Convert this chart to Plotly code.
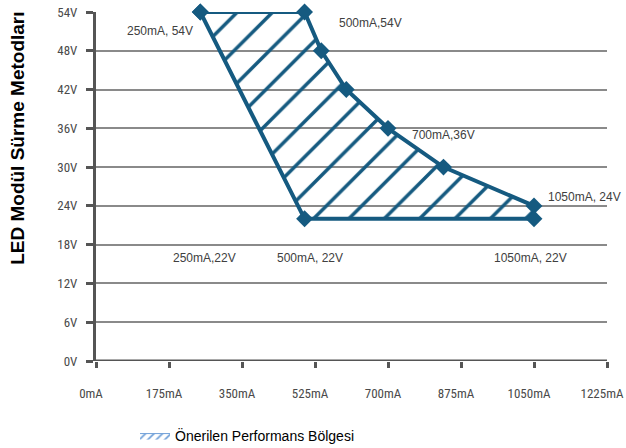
import plotly.graph_objects as go

# Data
current_mA = [250, 500, 540, 600, 700, 833, 1050, 1050, 500]
voltage_V = [54, 54, 48, 42, 36, 30, 24, 22, 22]

label_texts = ["250mA, 54V", "500mA,54V", "700mA,36V", "1050mA, 24V",
               "250mA,22V", "500mA, 22V", "1050mA, 22V"]
label_x = [153, 657, 832, 1172, 261, 513, 1041]
label_y = [51, 52.3, 34.9, 25.4, 16, 16, 16]

x_ticks = [0, 175, 350, 525, 700, 875, 1050, 1225]
x_tick_text = ["0mA", "175mA", "350mA", "525mA", "700mA", "875mA", "1050mA", "1225mA"]
y_ticks = [0, 6, 12, 18, 24, 30, 36, 42, 48, 54]
y_tick_text = ["0V", "6V", "12V", "18V", "24V", "30V", "36V", "42V", "48V", "54V"]

series_name = "Önerilen Performans Bölgesi"
y_title = "LED Modül Sürme Metodları"

BLUE = "#155a80"
NARROW = "Liberation Sans Narrow, Arial Narrow, Roboto Condensed, Liberation Sans, Arial"
REG = "Liberation Sans, Arial, Helvetica"

poly_x = current_mA + [current_mA[0]]
poly_y = voltage_V + [voltage_V[0]]

fig = go.Figure()

# hatched region
fig.add_trace(go.Scatter(
    x=poly_x, y=poly_y, mode="lines", fill="toself",
    fillcolor="rgba(255,255,255,0)",
    fillpattern=dict(shape="/", fgcolor=BLUE, fgopacity=1, bgcolor="rgba(255,255,255,0)",
                     size=25, solidity=0.14),
    line=dict(color=BLUE, width=0),
    showlegend=False, hoverinfo="skip",
))

# outline with markers
fig.add_trace(go.Scatter(
    x=poly_x, y=poly_y, mode="lines+markers",
    line=dict(color=BLUE, width=4),
    marker=dict(symbol="diamond", size=13, color=BLUE),
    showlegend=False, cliponaxis=False, hoverinfo="skip",
))

# legend entry (hatched swatch)
fig.add_trace(go.Scatter(
    x=[None], y=[None], mode="lines", fill="toself",
    fillcolor="rgba(255,255,255,0)",
    fillpattern=dict(shape="/", fgcolor="#6f9fd8", fgopacity=1,
                     bgcolor="rgba(255,255,255,0)", size=6, solidity=0.3),
    line=dict(color="#6f9fd8", width=1),
    name=series_name, showlegend=True,
))

for t, x, y in zip(label_texts, label_x, label_y):
    fig.add_annotation(x=x, y=y, xref="x", yref="y", text=t, showarrow=False,
                       font=dict(family=REG, size=12, color="#404040"))

fig.add_annotation(x=-0.153, y=0.639, xref="paper", yref="paper", xanchor="center",
                   yanchor="middle", text="<b>" + y_title + "</b>", textangle=-90,
                   showarrow=False, font=dict(family=REG, size=19, color="#000000"))

fig.update_xaxes(range=[0, 1225], tickvals=x_ticks, ticktext=x_tick_text,
                 showgrid=False, zeroline=False, showline=False, automargin=False,
                 ticks="outside", ticklen=6, tickwidth=3, tickcolor="#555555",
                 ticklabelstandoff=14, ticklabelshift=-5, ticklabeloverflow="allow",
                 tickfont=dict(family=NARROW, size=13, color="#4a4a4a"))
fig.update_yaxes(range=[0, 54], tickvals=y_ticks, ticktext=y_tick_text,
                 showgrid=True, gridcolor="#8a8a8a", gridwidth=2, automargin=False,
                 zeroline=False, showline=True, linecolor="#555555", linewidth=3,
                 ticks="outside", ticklen=7, tickwidth=3, tickcolor="#555555",
                 ticklabelstandoff=6, ticklabeloverflow="allow",
                 tickfont=dict(family=NARROW, size=13, color="#4a4a4a"))

# x-axis baseline drawn at 0V
fig.add_hline(y=0, line=dict(color="#555555", width=3), layer="above")

fig.update_layout(
    width=626, height=448,
    margin=dict(l=96, r=19, t=12, b=87, autoexpand=False),
    plot_bgcolor="white", paper_bgcolor="white",
    legend=dict(orientation="h", xref="container", yref="container",
                x=0.2157, y=0.0268, xanchor="left", yanchor="middle",
                font=dict(family=REG, size=14, color="#000000"),
                bgcolor="rgba(0,0,0,0)"),
    font=dict(family=NARROW),
)

fig.write_html("out.html", config={"displayModeBar": False},
               post_script="document.body.style.margin='0';")
